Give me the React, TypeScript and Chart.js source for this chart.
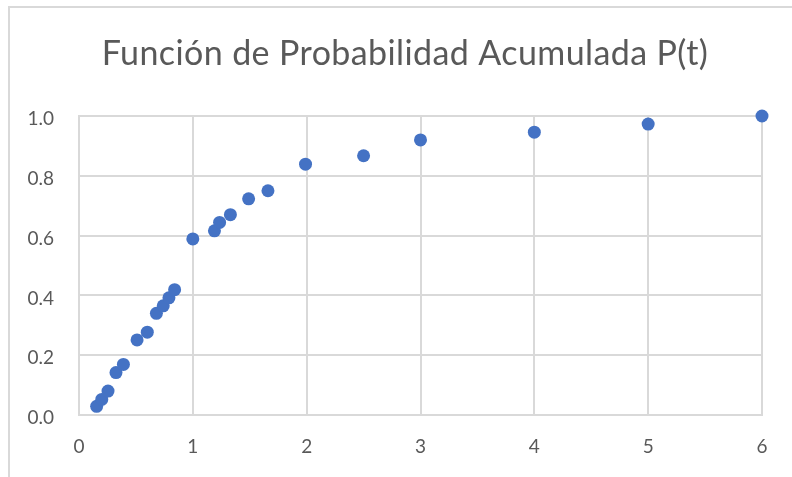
import React, { useEffect, useRef } from "react";
import { Chart, registerables } from "chart.js";

Chart.register(...registerables);

// Tiempos t y probabilidad acumulada P(t)
const tValues = [0.155, 0.2, 0.255, 0.325, 0.39, 0.51, 0.6, 0.68, 0.74, 0.79, 0.84, 1.0, 1.19, 1.235, 1.33, 1.49, 1.66, 1.99, 2.5, 3, 4, 5, 6];
const pValues = [0.029, 0.052, 0.08, 0.142, 0.169, 0.251, 0.277, 0.34, 0.365, 0.392, 0.419, 0.589, 0.616, 0.644, 0.67, 0.723, 0.75, 0.839, 0.867, 0.92, 0.946, 0.973, 1.0];

const titleText = "Función de Probabilidad Acumulada P(t)";
const xTicks = [0, 1, 2, 3, 4, 5, 6];
const yTicks = [0, 0.2, 0.4, 0.6, 0.8, 1.0];

const FONT = "Lato, 'Open Sans', sans-serif";
const TEXT_GRAY = "#595959";
const GRID_GRAY = "#d9d9d9";

const framePlugin = {
  id: "frameAndTitle",
  beforeDraw(chart: any) {
    const { ctx, width, height } = chart;
    ctx.save();
    ctx.fillStyle = "#ffffff";
    ctx.fillRect(0, 0, width, height);
    // outer chart frame (continues past the canvas edges)
    ctx.strokeStyle = GRID_GRAY;
    ctx.lineWidth = 2;
    ctx.beginPath();
    ctx.moveTo(9, height + 5);
    ctx.lineTo(9, 7);
    ctx.lineTo(width + 5, 7);
    ctx.stroke();
    // title
    ctx.fillStyle = TEXT_GRAY;
    ctx.font = `34px ${FONT}`;
    (ctx as any).letterSpacing = "0.4px";
    ctx.textAlign = "center";
    ctx.textBaseline = "alphabetic";
    ctx.fillText(titleText, 405, 65);
    ctx.restore();
  },
};

export default function App() {
  const canvasRef = useRef<HTMLCanvasElement | null>(null);

  useEffect(() => {
    document.body.style.margin = "0";
    const canvas = canvasRef.current;
    if (!canvas) return;
    const points = tValues.map((t, i) => ({ x: t, y: pValues[i] }));
    const chart = new Chart(canvas, {
      type: "scatter",
      data: {
        datasets: [
          {
            data: points,
            backgroundColor: "#4472C4",
            borderColor: "#4472C4",
            borderWidth: 0,
            pointRadius: 6.5,
            pointHoverRadius: 6.5,
            clip: false,
          },
        ],
      },
      plugins: [framePlugin],
      options: {
        responsive: false,
        animation: false,
        devicePixelRatio: 1,
        layout: { padding: { top: 116, right: 30, bottom: 0, left: 0 } },
        plugins: {
          legend: { display: false },
          title: { display: false },
          tooltip: { enabled: false },
        },
        scales: {
          x: {
            type: "linear",
            min: xTicks[0],
            max: xTicks[xTicks.length - 1],
            afterBuildTicks: (scale: any) => {
              scale.ticks = xTicks.map((v) => ({ value: v }));
            },
            afterFit: (scale: any) => {
              scale.height = 62;
            },
            grid: { color: GRID_GRAY, lineWidth: 2, drawTicks: false },
            border: { color: GRID_GRAY, width: 2 },
            ticks: {
              color: TEXT_GRAY,
              font: { family: FONT, size: 19 },
              padding: 20,
              callback: (v: any) => String(v),
            },
          },
          y: {
            type: "linear",
            min: yTicks[0],
            max: yTicks[yTicks.length - 1],
            afterBuildTicks: (scale: any) => {
              scale.ticks = yTicks.map((v) => ({ value: v }));
            },
            afterFit: (scale: any) => {
              scale.width = 79;
            },
            grid: { color: GRID_GRAY, lineWidth: 2, drawTicks: false },
            border: { color: GRID_GRAY, width: 2 },
            ticks: {
              color: TEXT_GRAY,
              font: { family: FONT, size: 19 },
              padding: 25,
              labelOffset: 3,
              callback: (v: any) => Number(v).toFixed(1),
            },
          },
        },
      },
    });
    return () => chart.destroy();
  }, []);

  return (
    <div style={{ position: "absolute", left: 0, top: 0, width: 792, height: 477 }}>
      <canvas ref={canvasRef} width={792} height={477} />
    </div>
  );
}
